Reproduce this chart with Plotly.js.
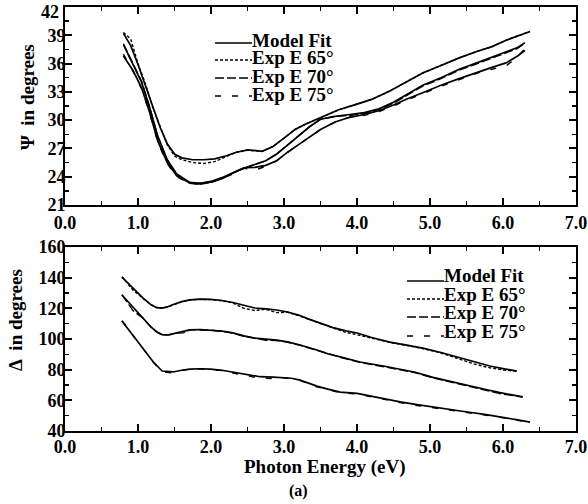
<!DOCTYPE html>
<html>
<head>
<meta charset="utf-8">
<script src="https://cdn.plot.ly/plotly-3.0.1.min.js"></script>
<style>html,body{margin:0;padding:0;background:#fff;}</style>
</head>
<body>
<div id="chart" style="width:588px;height:504px;"></div>
<script>
// ---------- DATA ----------
// Psi (top panel)
const psiE65 = [0.80,0.90,1.00,1.10,1.20,1.30,1.40,1.50,1.60,1.75,1.90,2.05,2.20,2.35,2.50,2.70,2.85,3.00,3.15,3.30,3.50,3.75,4.00,4.20,4.45,4.70,4.90,5.15,5.40,5.65,5.85,6.05,6.20,6.37];
const psiFit65 = [39.2,37.9,35.9,33.8,31.5,29.3,27.5,26.4,26.0,25.8,25.8,25.9,26.2,26.6,26.85,26.7,27.2,28.1,29.0,29.6,30.3,31.1,31.7,32.2,33.1,34.2,35.0,35.8,36.6,37.3,37.8,38.5,38.9,39.4];
const psiExp65 = [39.3,38.6,36.0,33.9,31.4,29.4,27.4,26.2,25.8,25.5,25.4,25.6,26.1,26.6,26.8,26.7,27.2,28.1,29.0,29.6,30.3,31.1,31.7,32.2,33.1,34.2,35.0,35.8,36.6,37.3,37.8,38.5,38.9,39.4];

const psiE70 = [0.80,0.93,1.05,1.16,1.27,1.40,1.53,1.71,1.85,2.00,2.15,2.30,2.45,2.60,2.75,2.90,3.05,3.20,3.35,3.50,3.70,3.90,4.10,4.30,4.50,4.70,4.90,5.15,5.40,5.65,5.85,6.05,6.20,6.30];
const psiFit70 = [38.0,36.0,34.0,31.3,28.3,25.8,24.3,23.4,23.3,23.45,23.8,24.4,24.9,25.3,25.7,26.4,27.4,28.4,29.3,30.1,30.4,30.6,30.8,31.2,31.9,32.8,33.7,34.5,35.4,36.1,36.7,37.3,37.7,38.2];
const psiExp70 = [38.1,36.1,34.1,31.4,28.3,25.8,24.2,23.3,23.2,23.4,23.8,24.4,24.9,25.3,25.7,26.4,27.4,28.4,29.3,30.1,30.4,30.5,30.7,31.1,31.8,32.7,33.6,34.4,35.3,36.0,36.6,37.2,37.6,38.2];

const psiE75 = [0.80,0.93,1.05,1.16,1.27,1.40,1.53,1.71,1.85,2.00,2.15,2.30,2.45,2.60,2.75,2.90,3.05,3.20,3.35,3.50,3.70,3.90,4.10,4.30,4.50,4.70,4.90,5.15,5.40,5.65,5.85,6.05,6.20,6.30];
const psiFit75 = [36.8,35.3,33.4,30.8,27.8,25.5,24.1,23.35,23.3,23.5,23.9,24.4,24.95,25.0,25.2,25.7,26.6,27.4,28.2,29.0,29.8,30.3,30.6,31.0,31.6,32.3,32.9,33.7,34.4,35.1,35.6,36.1,36.8,37.4];
const psiExp75 = [37.0,35.2,33.3,30.7,27.7,25.4,24.0,23.3,23.2,23.4,23.8,24.3,24.9,24.7,25.1,25.7,26.6,27.4,28.2,29.0,29.8,30.3,30.5,30.9,31.5,32.2,32.8,33.6,34.3,35.0,35.4,35.8,36.7,37.6];

// Delta (bottom panel)
const dE65 = [0.78,0.93,1.07,1.18,1.26,1.33,1.40,1.50,1.60,1.71,1.85,2.00,2.15,2.30,2.45,2.60,2.75,2.90,3.05,3.20,3.35,3.50,3.67,3.85,4.00,4.20,4.45,4.70,4.90,5.15,5.37,5.60,5.82,6.00,6.19];
const dFit65 = [140.4,133.2,126.7,122.3,120.4,120.2,120.9,122.8,124.4,125.5,126.0,125.9,125.1,123.8,121.8,120.2,119.6,118.9,117.6,115.6,112.8,110.3,107.4,105.3,103.9,101.0,98.0,95.8,94.1,91.2,88.3,84.8,82.4,80.7,79.1];
const dExp65 = [140.6,132.0,126.5,122.2,120.3,120.1,120.8,122.7,124.3,125.4,125.9,125.7,124.9,123.5,120.0,118.6,119.4,117.2,117.4,115.2,112.6,110.1,107.2,104.3,102.8,100.5,97.8,95.6,93.8,90.9,87.4,83.8,81.2,79.8,79.0];

const dE70 = [0.78,0.93,1.07,1.18,1.26,1.34,1.43,1.53,1.62,1.71,1.85,2.00,2.15,2.30,2.45,2.60,2.75,2.90,3.05,3.22,3.45,3.60,3.77,4.04,4.36,4.59,4.80,5.04,5.30,5.51,5.75,5.96,6.15,6.27];
const dFit70 = [128.7,120.9,113.7,107.8,104.6,102.6,102.9,103.9,105.0,105.9,106.2,105.9,105.2,104.0,102.0,100.6,100.0,99.3,98.1,96.1,92.8,90.4,88.3,85.0,82.4,80.5,78.3,75.0,72.0,69.6,67.2,65.0,63.5,62.2];
const dExp70 = [129.0,118.5,113.5,107.6,104.4,102.5,102.8,103.8,104.0,106.0,105.9,105.7,105.0,103.8,101.8,100.4,99.2,99.0,97.9,95.9,92.6,90.2,88.1,84.8,82.1,80.2,78.0,74.7,71.7,69.2,66.6,64.4,63.0,62.1];

const dE75 = [0.78,0.93,1.07,1.21,1.33,1.48,1.60,1.71,1.85,1.99,2.15,2.30,2.50,2.67,2.85,2.99,3.10,3.22,3.45,3.60,3.77,4.00,4.36,4.59,4.80,5.04,5.30,5.51,5.75,5.96,6.20,6.37];
const dFit75 = [111.7,102.6,94.1,85.0,79.1,78.5,79.6,80.4,80.6,80.4,79.6,78.5,76.6,75.4,75.2,75.0,74.4,73.2,69.3,67.3,65.4,64.5,60.9,59.0,57.4,55.6,54.0,52.4,50.8,49.3,47.3,45.8];
const dExp75 = [111.9,102.4,93.9,84.8,78.6,77.8,79.5,80.2,80.5,80.2,79.5,77.8,76.2,74.4,74.2,74.8,74.1,73.0,68.8,67.0,64.9,64.2,60.6,58.6,56.8,55.2,53.6,52.0,50.4,49.0,46.9,45.7];

// tick labels
const psiTicks = [21, 24, 27, 30, 33, 36, 39, 42];
const deltaTicks = [40, 60, 80, 100, 120, 140, 160];

const legendLabels = ['Model Fit', 'Exp E 65\u00B0', 'Exp E 70\u00B0', 'Exp E 75\u00B0'];
const xTitle = 'Photon Energy (eV)';
const psiTitle = '\u03A8  in degrees';
const deltaTitle = '\u0394  in degrees';
const panelLabel = '(a)';

// ---------- STYLE ----------
const FONT = 'Liberation Serif';
const dashes = ['solid', '3px,2px', '9px,3px', '6px,11px'];
const fitW = 1.7, expW = 1.4;

function fitTrace(x, y, xa, ya) {
  return {x: x, y: y, xaxis: xa, yaxis: ya, type: 'scatter', mode: 'lines',
          line: {color: '#000', width: fitW, dash: dashes[0]}, hoverinfo: 'skip'};
}
function expTrace(x, y, xa, ya, k) {
  return {x: x, y: y, xaxis: xa, yaxis: ya, type: 'scatter', mode: 'lines',
          line: {color: '#000', width: expW, dash: dashes[k]}, hoverinfo: 'skip'};
}

const traces = [
  fitTrace(psiE65, psiFit65, 'x', 'y'),
  fitTrace(psiE70, psiFit70, 'x', 'y'),
  fitTrace(psiE75, psiFit75, 'x', 'y'),
  expTrace(psiE65, psiExp65, 'x', 'y', 1),
  expTrace(psiE70, psiExp70, 'x', 'y', 2),
  expTrace(psiE75, psiExp75, 'x', 'y', 3),
  fitTrace(dE65, dFit65, 'x2', 'y2'),
  fitTrace(dE70, dFit70, 'x2', 'y2'),
  fitTrace(dE75, dFit75, 'x2', 'y2'),
  expTrace(dE65, dExp65, 'x2', 'y2', 1),
  expTrace(dE70, dExp70, 'x2', 'y2', 2),
  expTrace(dE75, dExp75, 'x2', 'y2', 3)
];

// pixel -> paper helpers (plot area: x 65..576, y 7..431)
const L = 65, R = 576, T = 7, B = 431;
const px = p => (p - L) / (R - L);
const py = p => (B - p) / (B - T);

const tickFont = {family: FONT, size: 18, color: '#000', weight: 700};
function xAxis(anchor, standoff) {
  return {anchor: anchor, domain: [0, 1], range: [0, 7], tick0: 0, dtick: 1, tickformat: '.1f',
          ticks: 'inside', ticklen: 7, tickwidth: 2, tickcolor: '#000',
          minor: {dtick: 0.5, ticks: 'inside', ticklen: 4, tickwidth: 1.5, tickcolor: '#000', showgrid: false},
          showline: true, linewidth: 2, linecolor: '#000', mirror: 'allticks',
          showgrid: false, zeroline: false, tickfont: tickFont, ticklabelstandoff: standoff,
          ticklabeloverflow: 'allow', fixedrange: true};
}
function yAxis(anchor, domain, range, ticks, minor) {
  const labels = ticks.map(v => (v === range[1] && range[1] === 42) ? '' : String(v));
  return {anchor: anchor, domain: domain, range: range, tickmode: 'array', tickvals: ticks, ticktext: labels,
          ticks: 'inside', ticklen: 7, tickwidth: 2, tickcolor: '#000',
          minor: {dtick: minor, tick0: range[0], ticks: 'inside', ticklen: 4, tickwidth: 1.5, tickcolor: '#000', showgrid: false},
          showline: true, linewidth: 2, linecolor: '#000', mirror: 'allticks',
          showgrid: false, zeroline: false, tickfont: tickFont, ticklabelstandoff: -6,
          ticklabeloverflow: 'allow', fixedrange: true};
}

const textFont = {family: FONT, size: 19, color: '#000', weight: 700};
const annotations = [];
const shapes = [];

function addLegend(lineX0, lineX1, textX, textYs, lineYs) {
  legendLabels.forEach((lab, k) => {
    shapes.push({type: 'line', xref: 'paper', yref: 'paper',
      x0: px(lineX0), x1: px(lineX1), y0: py(lineYs[k]), y1: py(lineYs[k]),
      line: {color: '#000', width: 1.6, dash: dashes[k]}});
    annotations.push({xref: 'paper', yref: 'paper', x: px(textX), y: py(textYs[k]),
      xanchor: 'left', yanchor: 'middle', showarrow: false, text: '<b>' + lab + '</b>', font: textFont});
  });
}
addLegend(215, 252, 250, [40, 58, 76, 94], [43, 60, 78, 96]);
addLegend(407, 444, 442, [275, 294, 312, 331], [281, 299, 317, 336]);

// top tick label of the Psi axis, nudged down inside the figure as in the reference
annotations.push({xref: 'paper', yref: 'y', x: 0, y: psiTicks[psiTicks.length - 1], xanchor: 'right', yanchor: 'middle',
  xshift: -4, yshift: -5, showarrow: false, text: String(psiTicks[psiTicks.length - 1]), font: tickFont});

annotations.push({xref: 'paper', yref: 'paper', x: px(27), y: py(97), xanchor: 'center', yanchor: 'middle',
  textangle: -90, showarrow: false, text: '<b>' + psiTitle + '</b>', font: textFont});
annotations.push({xref: 'paper', yref: 'paper', x: px(15), y: py(320), xanchor: 'center', yanchor: 'middle',
  textangle: -90, showarrow: false, text: '<b>' + deltaTitle + '</b>', font: textFont});
annotations.push({xref: 'paper', yref: 'paper', x: px(324), y: py(467), xanchor: 'center', yanchor: 'middle',
  showarrow: false, text: '<b>' + xTitle + '</b>', font: textFont});
annotations.push({xref: 'paper', yref: 'paper', x: px(298), y: py(491), xanchor: 'center', yanchor: 'middle',
  showarrow: false, text: '<b>' + panelLabel + '</b>', font: {family: FONT, size: 16, color: '#000', weight: 700}});

const layout = {
  width: 588, height: 504,
  margin: {l: L, r: 588 - R, t: T, b: 504 - B, pad: 0},
  paper_bgcolor: '#fff', plot_bgcolor: '#fff',
  showlegend: false,
  xaxis: xAxis('y', 0),
  yaxis: yAxis('x', [py(205), 1], [21, 42], psiTicks, 1.5),
  xaxis2: xAxis('y2', -2),
  yaxis2: yAxis('x2', [0, py(247)], [40, 160], deltaTicks, 10),
  annotations: annotations,
  shapes: shapes
};

Plotly.newPlot('chart', traces, layout, {staticPlot: true, displayModeBar: false});
</script>
</body>
</html>
